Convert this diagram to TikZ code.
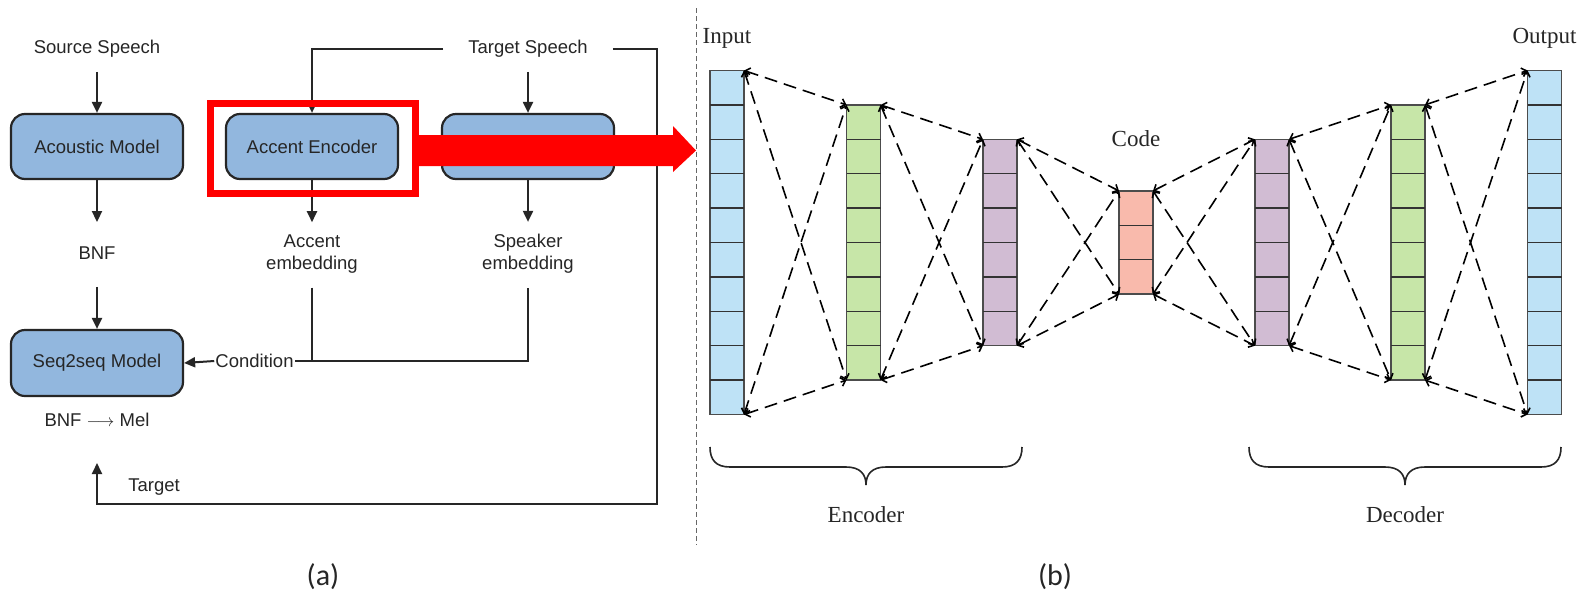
\documentclass[tikz,border=0pt]{standalone}
\usepackage{fontspec}
\setmainfont{Liberation Serif}
\setsansfont{Liberation Sans}
\newfontfamily\capfont{Carlito}
\usetikzlibrary{arrows.meta}

\definecolor{boxblue}{RGB}{146,183,222}
\definecolor{ink}{RGB}{38,38,38}
\definecolor{inblue}{RGB}{190,226,246}
\definecolor{leafgreen}{RGB}{199,230,168}
\definecolor{lilac}{RGB}{209,188,211}
\definecolor{salmon}{RGB}{249,186,172}
\definecolor{hilite}{RGB}{255,0,0}

\begin{document}
\begin{tikzpicture}[x=1pt,y=-1pt,
  sanslabel/.style={font=\sffamily\fontsize{18.5pt}{22pt}\selectfont, text=ink, inner sep=0pt},
  serflabel/.style={font=\rmfamily\fontsize{23pt}{26pt}\selectfont, text=ink, inner sep=0pt},
  sublabel/.style={font=\capfont\fontsize{30pt}{34pt}\selectfont, text=ink, inner sep=0pt},
  block/.style={draw=ink, fill=boxblue, line width=2.2pt, rounded corners=14pt,
    minimum width=172pt, minimum height=65pt, inner sep=0pt,
    font=\sffamily\fontsize{18.5pt}{22pt}\selectfont, text=ink},
  flow/.style={draw=ink, line width=2pt, -{Triangle[length=11pt,width=10pt]}},
  wire/.style={draw=ink, line width=2pt},
  layer/.style={draw=black!70, line width=1.4pt, minimum width=34pt, inner sep=0pt, outer sep=0pt},
  cellline/.style={draw=black!80, line width=1.4pt},
  conn/.style={draw=black, line width=1.6pt, dash pattern=on 13pt off 7pt,
    {Straight Barb[length=4.5pt,width=9pt]}-{Straight Barb[length=4.5pt,width=9pt]}}
]
\fill[white] (0,0) rectangle (1584,595);
\useasboundingbox (0,0) rectangle (1584,595);

% ---------------- (a) accent conversion pipeline ----------------
\node[sanslabel] (src) at (97,49) {Source Speech};
\node[sanslabel, inner xsep=25pt] (ts) at (528,49) {Target Speech};

\node[block] (am) at (97,146.5) {Acoustic Model};
\node[block] (ae) at (312,146.5) {Accent Encoder};
\node[block] (sp) at (528,146.5) {};

\node[sanslabel] (bnf) at (97,253.4) {BNF};
\node[sanslabel, align=center] (aemb) at (312,254.2) {Accent\\embedding};
\node[sanslabel, align=center] (semb) at (528,254.2) {Speaker\\embedding};

\node[block, minimum height=66pt] (s2s) at (97,363) {Seq2seq Model};
\node[sanslabel, inner xsep=1pt] (cond) at (254.5,361) {Condition};
\node[sanslabel] (bm) at (97,420) {BNF $\longrightarrow$ Mel};
\node[sanslabel] (tlab) at (154,487) {Target};

\coordinate (loop) at (657,504);
\coordinate (tgt) at (97,463);
\coordinate (join) at (312,361);

\draw[flow, shorten <=14pt] (src) -- (am);
\draw[flow, shorten <=14pt] (ts) -- (sp);
\draw[flow] (ts.west) -| (ae.north);
\draw[flow, shorten >=24.8pt] (am) -- (bnf);
\draw[flow, shorten >=12.5pt] (ae) -- (aemb);
\draw[flow, shorten >=12.5pt] (sp) -- (semb);
\draw[flow, shorten <=27pt] (bnf) -- (s2s);
\draw[wire, shorten <=14pt] (semb.south) |- (cond.east);
\draw[wire, shorten <=14pt] (aemb.south) -- (join);
\draw[flow] (cond.west) -- (s2s.east);
\draw[flow] (ts.east) -| (loop) -| (tgt);

% highlight around the accent encoder and the pointer to (b)
\draw[hilite, line width=7pt] ([shift={(-14.5,-9.5)}]ae.north west) rectangle ([shift={(16.5,13)}]ae.south east);
\fill[hilite] (414,135) -- (673,135) -- (673,126) -- (696,150.5) -- (673,172) -- (673,166) -- (414,166) -- cycle;

\node[sublabel] (capa) at (323,577) {(a)};

% ---------------- separator ----------------
\draw[black!60, line width=1pt, dash pattern=on 5pt off 3pt] (696,8) -- (696,545);

% ---------------- (b) autoencoder ----------------
\foreach \nm/\cx/\n/\col in {L1/727/10/inblue, L2/863.5/8/leafgreen, L3/1000/6/lilac,
    L4/1136/3/salmon, L5/1272/6/lilac, L6/1408/8/leafgreen, L7/1544.5/10/inblue}{
  \node[layer, fill=\col, minimum height={\n*34.4pt}] (\nm) at (\cx,242.5) {};
  \pgfmathtruncatemacro\lastcut{\n-1}
  \foreach \k in {1,...,\lastcut}{
    \draw[cellline] ([yshift={-\k*34.4pt}]\nm.north west) -- ([yshift={-\k*34.4pt}]\nm.north east);
  }
}
\foreach \a/\b in {L1/L2, L2/L3, L3/L4, L4/L5, L5/L6, L6/L7}{
  \draw[conn] (\a.north east) -- (\b.north west);
  \draw[conn] (\a.south east) -- (\b.south west);
  \draw[conn] (\a.north east) -- (\b.south west);
  \draw[conn] (\a.south east) -- (\b.north west);
}

\node[serflabel, anchor=base] (inlab) at (727,43) {Input};
\node[serflabel, anchor=base] (outlab) at (1544.5,43) {Output};
\node[serflabel, anchor=base] (codelab) at (1136,146) {Code};

% braces under the two halves
\foreach \xl/\xr in {710/1022, 1249/1561}{
  \pgfmathsetmacro\xm{(\xl+\xr)/2}
  \draw[ink, line width=1.6pt] (\xl,447) .. controls (\xl,460) and (\xl+6,467) .. (\xl+20,467)
    -- (\xm-20,467) .. controls (\xm-6,467) and (\xm,474) .. (\xm,485)
    .. controls (\xm,474) and (\xm+6,467) .. (\xm+20,467)
    -- (\xr-20,467) .. controls (\xr-6,467) and (\xr,460) .. (\xr,447);
}
\node[serflabel, anchor=base] (enclab) at (866,522) {Encoder};
\node[serflabel, anchor=base] (declab) at (1405,522) {Decoder};

\node[sublabel] (capb) at (1055,577) {(b)};
\end{tikzpicture}
\end{document}
